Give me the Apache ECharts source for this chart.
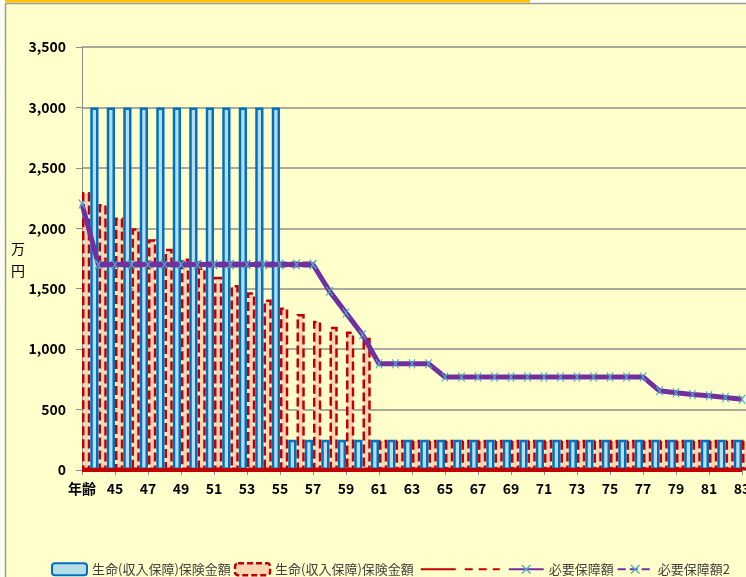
<!DOCTYPE html>
<html><head><meta charset="utf-8">
<script src="https://cdn.jsdelivr.net/npm/echarts@6/dist/echarts.min.js"></script>
<style>html,body{margin:0;padding:0;background:#fff}#c{width:746px;height:577px}</style>
</head><body><div id="c"></div>
<script>
// categories (ages); the first one is shown as "年齢"
const categories = ['年齢','44','45','46','47','48','49','50','51','52','53','54','55','56','57','58','59','60','61','62','63','64','65','66','67','68','69','70','71','72','73','74','75','76','77','78','79','80','81','82','83'];
// 生命(収入保障)保険金額 (blue bars)
const lifeBlue = [3000,3000,3000,3000,3000,3000,3000,3000,3000,3000,3000,3000,250,250,250,250,250,250,250,250,250,250,250,250,250,250,250,250,250,250,250,250,250,250,250,250,250,250,250,250,250];
// 生命(収入保障)保険金額 (red dashed bars)
const lifeRed = [2300,2200,2090,2000,1910,1830,1750,1675,1600,1530,1470,1410,1345,1290,1235,1185,1145,1095,250,250,250,250,250,250,250,250,250,250,250,250,250,250,250,250,250,250,250,250,250,250,250];
// red lines (unnamed)
const redSolid = [0,0,0,0,0,0,0,0,0,0,0,0,0,0,0,0,0,0,0,0,0,0,0,0,0,0,0,0,0,0,0,0,0,0,0,0,0,0,0,0,0];
const redDashed = [0,0,0,0,0,0,0,0,0,0,0,0,0,0,0,0,0,0,0,0,0,0,0,0,0,0,0,0,0,0,0,0,0,0,0,0,0,0,0,0,0];
// 必要保障額
const need = [2200,1700,1700,1700,1700,1700,1700,1700,1700,1700,1700,1700,1700,1700,1700,1480,1300,1120,880,880,880,880,770,770,770,770,770,770,770,770,770,770,770,770,770,655,640,625,615,600,585];
// 必要保障額2
const need2 = [null,1700,1700,1700,1700,1700,1700,1700,1700,1700,1700,1700,1700,1700,1700,null,null,null,null,null,null,null,null,null,null,null,null,null,null,null,null,null,null,null,null,null,null,null,null,null,null];
const yTicks = {min:0, max:3500, interval:500};

const numFont = "'Liberation Sans Narrow','Noto Sans CJK JP',sans-serif";
const cjkFont = "'Noto Sans CJK JP',sans-serif";
const xSym = 'path://M0,1L1,0L5,4L9,0L10,1L6,5L10,9L9,10L5,6L1,10L0,9L4,5Z';
const nameBlue = '生命(収入保障)保険金額';
const nameRed = '生命(収入保障)保険金額 ';

const chart = echarts.init(document.getElementById('c'));
chart.setOption({
  backgroundColor: '#FFFFCC',
  animation: false,
  grid: {left: 82, top: 47, width: 676.5, height: 423, outerBoundsMode: 'none', containLabel: false},
  legend: {
    left: 46, top: 557, itemWidth: 35, itemHeight: 12, itemGap: 3,
    textStyle: {fontFamily: cjkFont, fontSize: 13, color: '#404040'},
    data: [
      nameBlue,
      {name: nameRed, itemStyle: {borderType: [6, 3], borderWidth: 2.5, borderColor: '#C00000'}},
      '\u200b', '\u200b\u200b', '必要保障額', '必要保障額2']
  },
  xAxis: [
    {type: 'category', data: categories, boundaryGap: false, max: 41,
     axisLine: {show: true, lineStyle: {color: '#8c8c8c', width: 1}},
     axisTick: {show: true, interval: 1, length: 5, lineStyle: {color: '#8c8c8c'}},
     axisLabel: {interval: 1, margin: 12, fontFamily: numFont, fontWeight: 'bold', fontSize: 14, color: '#000'},
     splitLine: {show: false}},
    {type: 'category', data: categories, boundaryGap: true, show: false}
  ],
  yAxis: {
    type: 'value', min: yTicks.min, max: yTicks.max, interval: yTicks.interval,
    axisLine: {show: true, lineStyle: {color: '#8c8c8c', width: 1}},
    axisTick: {show: true, length: 6, lineStyle: {color: '#8c8c8c'}},
    axisLabel: {margin: 16, fontFamily: numFont, fontWeight: 'bold', fontSize: 14, color: '#000',
      formatter: v => v.toLocaleString('en-US')},
    splitLine: {lineStyle: {color: '#8c8c8c', width: 1.5}}
  },
  series: [
    {name: nameRed, type: 'bar', xAxisIndex: 1, data: lifeRed, barGap: '0%', barCategoryGap: '0%',
     itemStyle: {color: '#FCD5B5', borderColor: '#C00000', borderWidth: 2.5, borderType: [9, 4]}},
    {name: nameBlue, type: 'bar', xAxisIndex: 1, data: lifeBlue, barGap: '0%', barCategoryGap: '0%',
     itemStyle: {color: '#B7DEE8', borderColor: '#0070C0', borderWidth: 2.5}},
    {name: '\u200b', type: 'line', data: redSolid, symbol: 'none', z: 5,
     lineStyle: {color: '#C00000', width: 4}, itemStyle: {color: 'rgba(0,0,0,0)'}},
    {name: '\u200b\u200b', type: 'line', data: redDashed, symbol: 'none', z: 4,
     lineStyle: {color: '#C00000', width: 4, type: [8, 6]}, itemStyle: {color: 'rgba(0,0,0,0)'}},
    {name: '必要保障額', type: 'line', data: need, symbol: xSym, symbolSize: [7, 10], z: 6,
     lineStyle: {color: '#7030A0', width: 5}, itemStyle: {color: '#4BACC6'}},
    {name: '必要保障額2', type: 'line', data: need2, symbol: xSym, symbolSize: [7, 10], z: 7,
     lineStyle: {color: '#7030A0', width: 6, type: [8, 4]}, itemStyle: {color: '#4BACC6'}}
  ],
  graphic: [
    {type: 'rect', shape: {x: 0, y: 0, width: 5, height: 577}, style: {fill: '#FFFFF4'}, silent: true},
    {type: 'rect', shape: {x: 0, y: 0, width: 746, height: 3}, style: {fill: '#FFFFF4'}, silent: true},
    {type: 'line', shape: {x1: 5.5, y1: 3.5, x2: 5.5, y2: 577}, style: {stroke: '#9a9a9a', lineWidth: 1.5}, silent: true},
    {type: 'line', shape: {x1: 5.5, y1: 3.5, x2: 746, y2: 3.5}, style: {stroke: '#9a9a9a', lineWidth: 1.5}, silent: true},
    {type: 'rect', shape: {x: 5, y: 0, width: 525, height: 2.5}, style: {fill: '#FFC000'}, silent: true},
    {type: 'text', left: 11, top: 238, style: {text: '万\n円', font: "14px 'Noto Sans CJK JP'", fill: '#000', lineHeight: 22}}
  ]
});
</script></body></html>
